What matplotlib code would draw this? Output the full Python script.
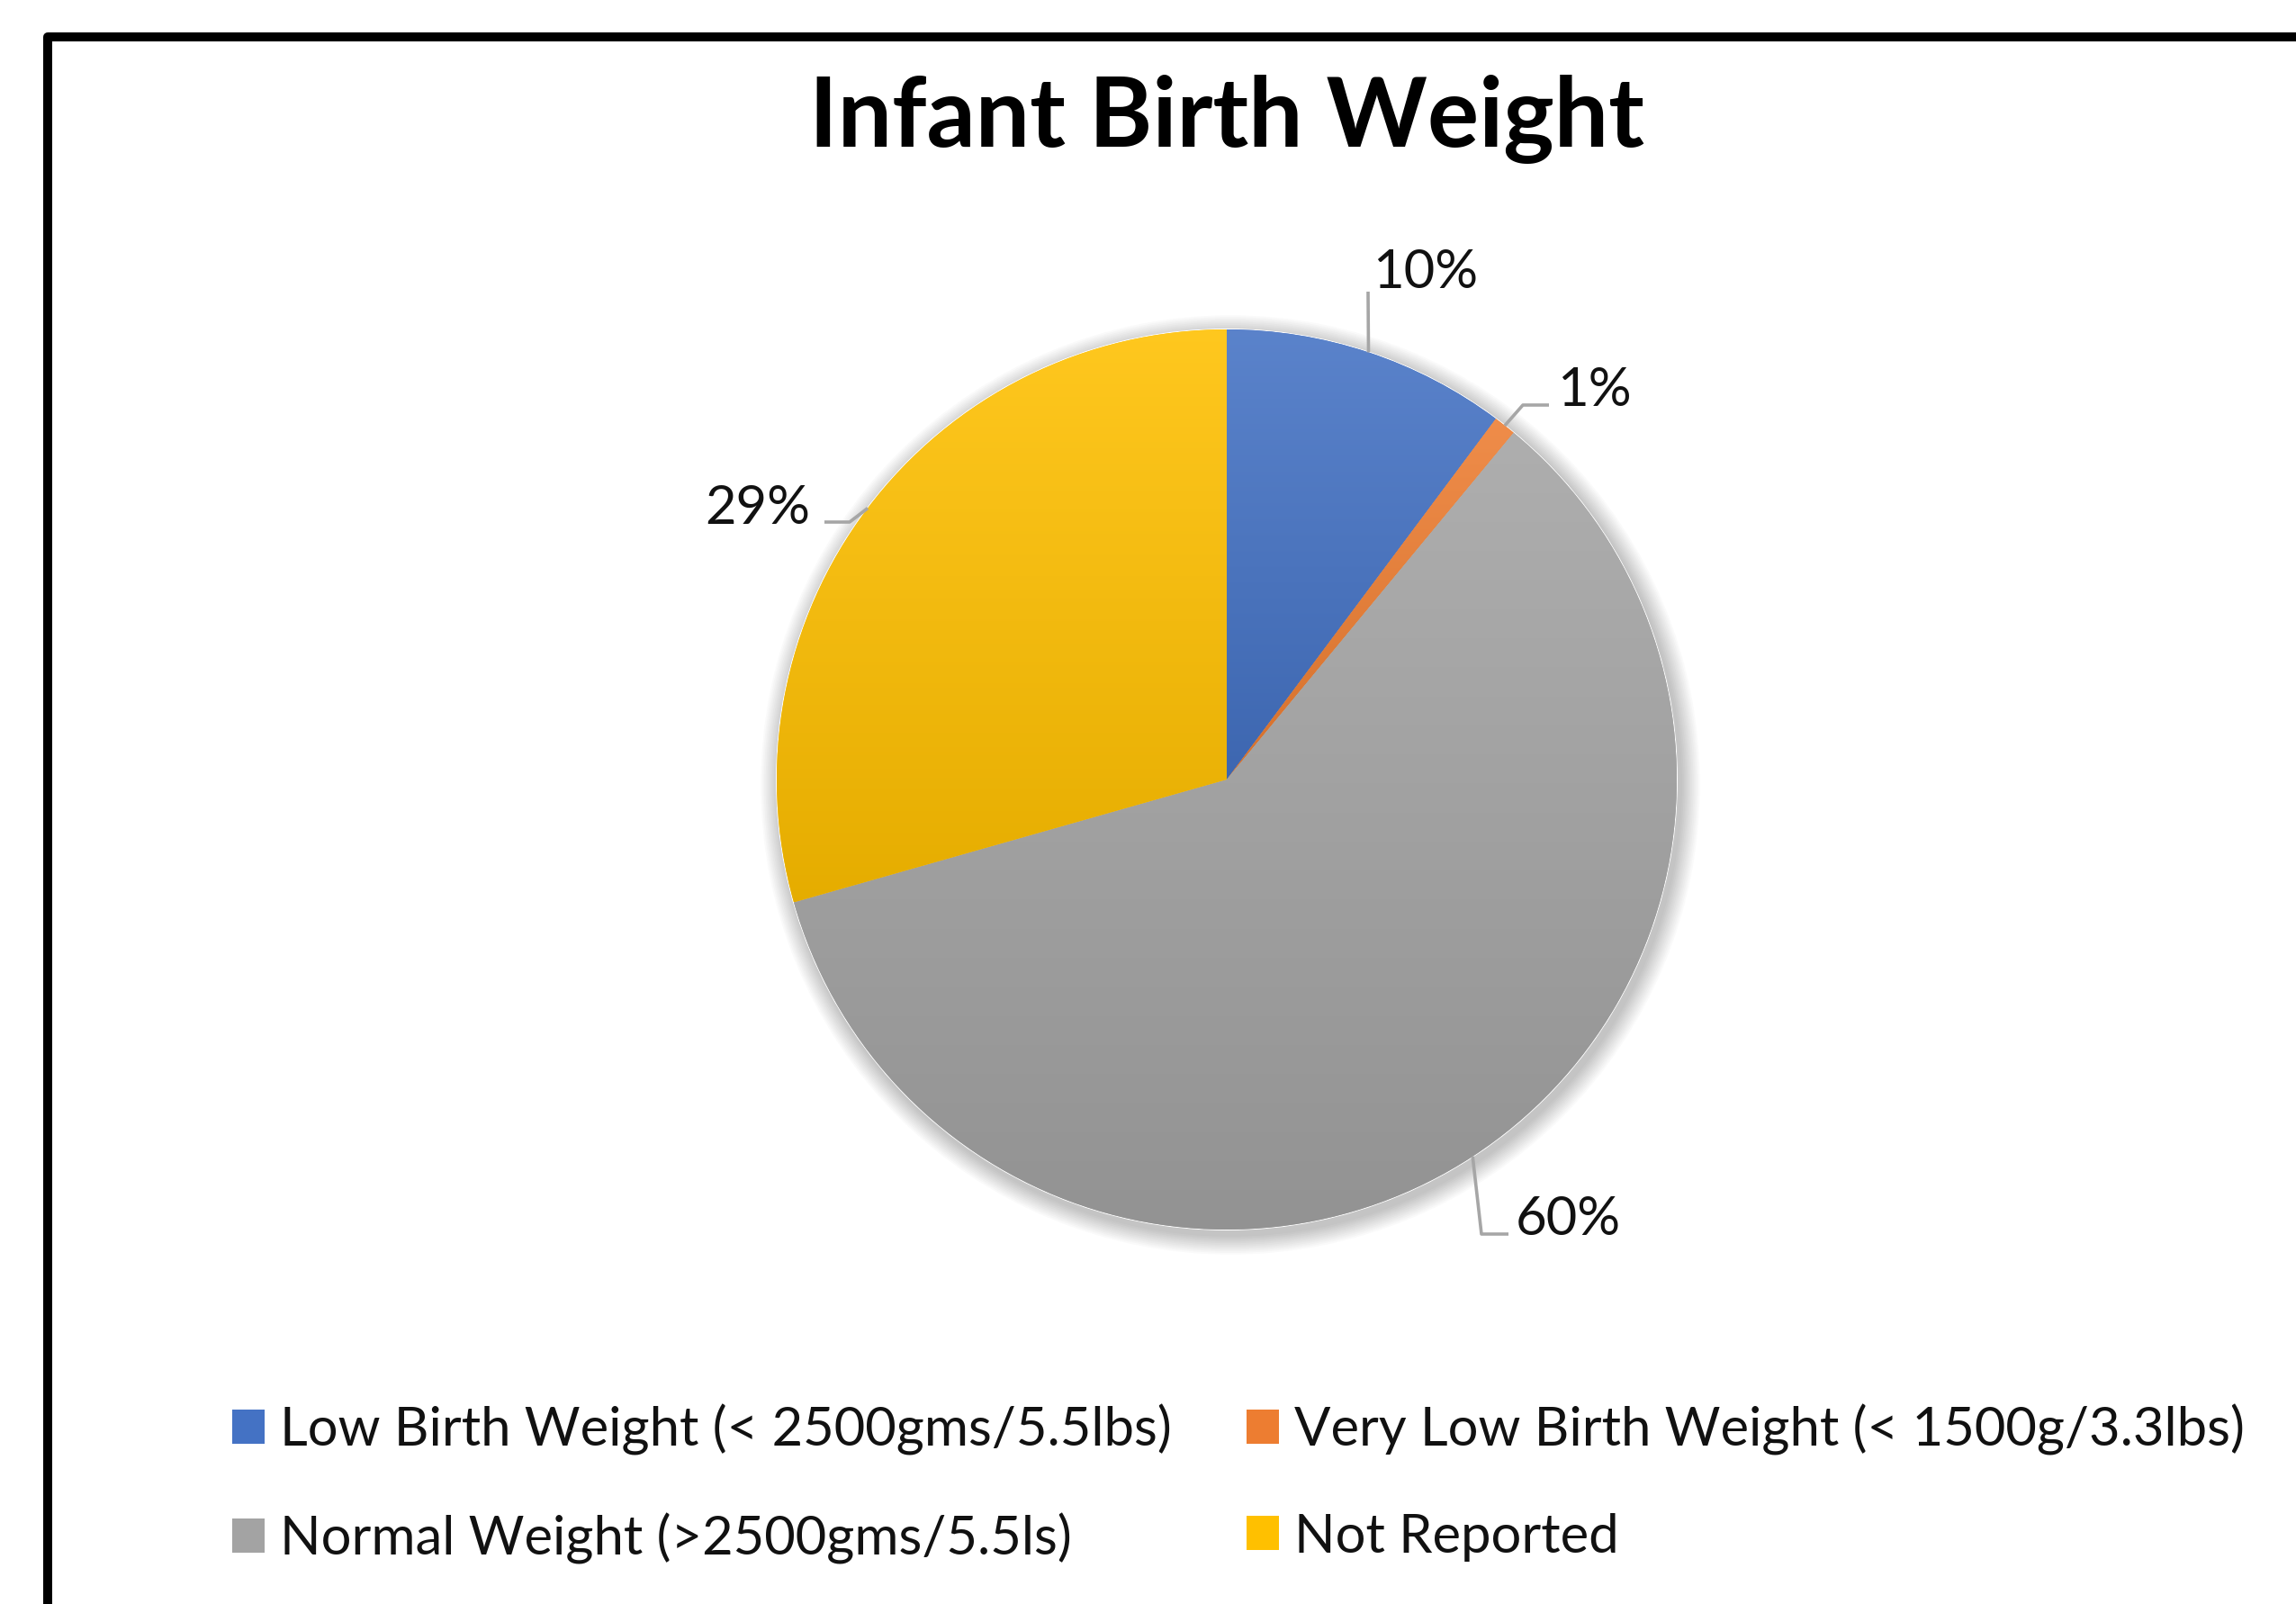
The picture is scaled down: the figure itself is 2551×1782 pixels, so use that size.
"""Infant birth weight pie chart, drawn on a pixel-sized canvas."""

import matplotlib.pyplot as plt
import numpy as np
from matplotlib.colors import to_rgb
from matplotlib.patches import Circle

W, H = 2551, 1783

categories = [
    "Low Birth Weight (< 2500gms/5.5lbs)",
    "Very Low Birth Weight (< 1500g/3.3lbs)",
    "Normal Weight (>2500gms/5.5ls)",
    "Not Reported",
]
shares = [10.2, 0.8, 59.6, 29.4]
pct_labels = ["10%", "1%", "60%", "29%"]
base_colors = ["#4472C4", "#ED7D31", "#A3A3A3", "#FFC000"]

# leader-line elbows and label baselines, pixels from the top-left corner
leader_elbows = [
    [(1520, 325)],
    [(1692, 451), (1721, 451)],
    [(1646, 1372), (1676, 1372)],
    [(944, 581), (916, 581)],
]
label_pos = [(1525, 320, "left"), (1730, 451, "left"), (1684, 1372, "left"), (900, 582, "right")]

CX, CY, R = 1363, 867, 500
FONT = "Lato"


def fy(y_px):
    """Convert a pixel row (from the top) into axis y."""
    return H - y_px


def shade(color, amount):
    """Lighten (amount > 0) or darken (amount < 0) a colour."""
    rgb = np.array(to_rgb(color))
    if amount > 0:
        return rgb + (1 - rgb) * amount
    return rgb * (1 + amount)


def add_gradient(ax, wedge, color):
    """Fill `wedge` with a top-light, bottom-dark vertical gradient."""
    ext = wedge.get_path().get_extents()
    top, bottom = shade(color, 0.12), shade(color, -0.10)
    t = np.linspace(0, 1, 256)[:, None, None]
    grad = top * (1 - t) + bottom * t
    img = ax.imshow(
        grad,
        extent=[ext.x0, ext.x1, ext.y0, ext.y1],
        origin="upper",
        aspect="auto",
        interpolation="bilinear",
        zorder=2,
    )
    img.set_clip_path(wedge)


def main():
    fig = plt.figure(figsize=(W / 100, H / 100), dpi=100)
    ax = fig.add_axes([0, 0, 1, 1])

    # soft shadow round the pie
    for i in range(12):
        ax.add_patch(
            Circle((CX + 4, fy(CY + 6)), R + 2 + i * 1.8, color="#000000",
                   alpha=0.02, lw=0, zorder=0)
        )
    ax.add_patch(Circle((CX, fy(CY)), R + 1, color="white", lw=0, zorder=0.5))

    wedges, _ = ax.pie(
        shares,
        colors=base_colors,
        startangle=90,
        counterclock=False,
        center=(CX, fy(CY)),
        radius=R,
        wedgeprops=dict(linewidth=0),
    )
    for w, c in zip(wedges, base_colors):
        w.set_zorder(1)
        add_gradient(ax, w, c)

    # data labels with leader lines from each slice's mid angle
    for w, elbows, (tx, ty, ha), lab in zip(wedges, leader_elbows, label_pos, pct_labels):
        mid = np.deg2rad((w.theta1 + w.theta2) / 2)
        ax_pt = (CX + R * np.cos(mid), fy(CY) + R * np.sin(mid))
        xs = [ax_pt[0]] + [p[0] for p in elbows]
        ys = [ax_pt[1]] + [fy(p[1]) for p in elbows]
        ax.plot(xs, ys, color="#A6A6A6", lw=2.6, zorder=3, solid_capstyle="butt")
        ax.text(tx, fy(ty), lab, ha=ha, va="baseline", fontsize=43,
                family=FONT, color="#111111", zorder=4)

    ax.text(W * 0.5343, fy(163), "Infant Birth Weight", ha="center", va="baseline",
            fontsize=77, fontweight="bold", family=FONT, color="black")

    # chart border, running off the right and bottom edges
    ax.plot([53, 53, W + 50], [fy(H + 50), fy(42), fy(42)], color="black",
            lw=7.2, solid_capstyle="projecting", clip_on=False, zorder=5)

    # legend fills row by row, matplotlib fills column by column
    order = [0, 2, 1, 3]
    leg = ax.legend(
        [wedges[i] for i in order],
        [categories[i] for i in order],
        ncol=2,
        loc="upper left",
        bbox_to_anchor=(258 / W, fy(1560) / H),
        frameon=False,
        prop=dict(family=FONT, size=43),
        handlelength=0.6,
        handleheight=0.6,
        handletextpad=0.28,
        labelspacing=1.07,
        columnspacing=1.4,
        borderpad=0,
        borderaxespad=0,
    )
    for t in leg.get_texts():
        t.set_color("#111111")

    ax.set_xlim(0, W)
    ax.set_ylim(0, H)
    ax.set_aspect("auto")
    ax.axis("off")
    fig.savefig("out.png", dpi=100, facecolor="white")


if __name__ == "__main__":
    main()
